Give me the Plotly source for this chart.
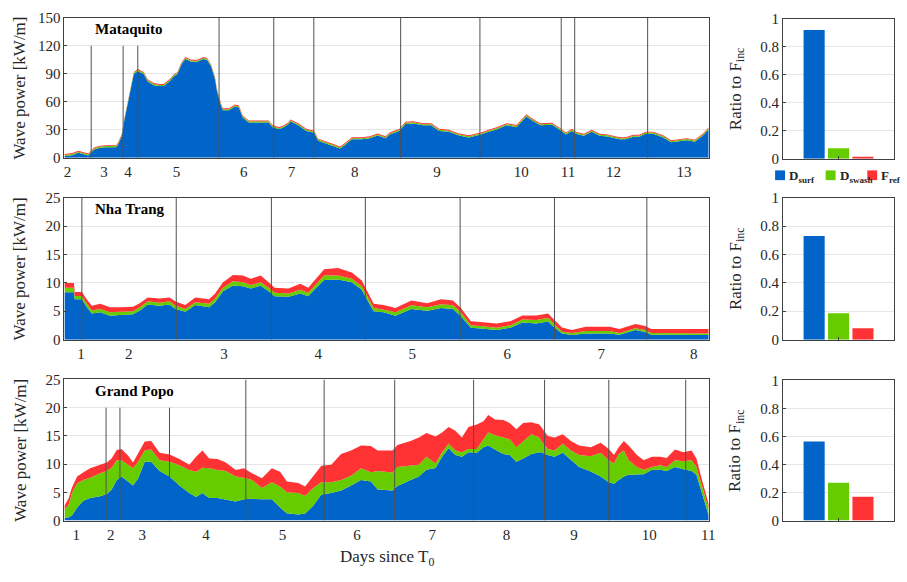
import plotly.graph_objects as go

# ---------------- colours / fonts ----------------
C_SURF = "#0064C8"
C_SWASH = "#66CC00"
C_REF = "#FF3333"
FONT = "Liberation Serif, 'Times New Roman', 'DejaVu Serif', serif"
TXT = "#262626"

# ---------------- Mataquito (time in record hours) ----------------
mq_time = [0, 2, 3.5, 5, 6, 7.5, 9, 10.5, 13, 13.5, 14.5, 15, 16, 17, 17.5, 18.5,
           20, 21, 22.5, 24, 25, 26.5, 27.5, 28.5, 29.5, 30.5, 32, 33.5, 35, 36, 37, 38,
           38.5, 39.5, 40, 41.5, 43, 44, 45, 46.5, 50, 51.5, 52.5, 54, 55, 56.5, 57, 59,
           61, 63, 64, 66, 67, 69.5, 70.5, 72.5, 75, 77, 79, 81, 82, 84.5, 86, 88,
           90.5, 92.5, 94.5, 97, 99.5, 102, 105, 107, 109, 111.5, 114, 116.5, 118, 120, 123, 125,
           126.5, 128, 129, 131, 133, 135, 137, 140, 141.5, 143.5, 145, 146.5, 148.5, 151, 153, 156,
           157, 159, 161, 162.5]
mq_surf = [1.8, 2.8, 5.3, 3.8, 2.3, 8.8, 10.8, 11.3, 11.3, 13.8, 23.8, 37.8, 59.8, 79.8, 89.8, 92.8,
           89.8, 81.8, 77.8, 76.8, 76.8, 81.8, 86.8, 89.8, 99.8, 105.8, 102.8, 102.8, 105.8, 104.8, 97.8, 83.8,
           70.8, 55.8, 50.8, 50.8, 54.8, 53.8, 42.8, 37.8, 37.8, 37.8, 32.8, 30.8, 31.8, 35.8, 38.8, 34.8,
           28.8, 26.8, 18.3, 14.8, 13.8, 9.8, 12.8, 19.8, 19.8, 20.8, 23.8, 20.8, 24.8, 28.8, 36.3, 36.8,
           34.8, 34.8, 28.8, 27.8, 23.8, 21.8, 24.8, 27.8, 30.4, 34.8, 32.8, 44.3, 39.8, 34.8, 35.3, 29.8,
           24.8, 28.8, 25.8, 23.5, 27.8, 23.5, 22.8, 19.8, 19.8, 22.4, 22.4, 25.8, 25.8, 21.8, 16.6, 18.3,
           18.8, 17.2, 23.5, 30.4]
mq_swash = [1.2, 1.2, 1.2, 1.2, 1.2, 1.2, 1.2, 1.2, 1.2, 1.2, 1.2, 1.2, 1.2, 1.2, 1.2, 1.2,
            1.2, 1.2, 1.2, 1.2, 1.2, 1.2, 1.2, 1.2, 1.2, 1.2, 1.2, 1.2, 1.2, 1.2, 1.2, 1.2,
            1.2, 1.2, 1.2, 1.2, 1.2, 1.2, 1.2, 1.2, 1.2, 1.2, 1.2, 1.2, 1.2, 1.2, 1.2, 1.2,
            1.2, 1.2, 1.2, 1.2, 1.2, 1.2, 1.2, 1.2, 1.2, 1.2, 1.2, 1.2, 1.2, 1.2, 1.2, 1.2,
            1.2, 1.2, 1.2, 1.2, 1.2, 1.2, 1.2, 1.2, 1.2, 1.2, 1.2, 1.2, 1.2, 1.2, 1.2, 1.2,
            1.2, 1.2, 1.2, 1.2, 1.2, 1.2, 1.2, 1.2, 1.2, 1.2, 1.2, 1.2, 1.2, 1.2, 1.2, 1.2,
            1.2, 1.2, 1.2, 1.2]
mq_ref = [1.0, 1.0, 1.0, 1.0, 1.0, 1.0, 1.0, 1.0, 1.0, 1.0, 1.0, 1.0, 1.0, 1.0, 1.0, 1.0,
          1.0, 1.0, 1.0, 1.0, 1.0, 1.0, 1.0, 1.0, 1.0, 1.0, 1.0, 1.0, 1.0, 1.0, 1.0, 1.0,
          1.0, 1.0, 1.0, 1.0, 1.0, 1.0, 1.0, 1.0, 1.0, 1.0, 1.0, 1.0, 1.0, 1.0, 1.0, 1.0,
          1.0, 1.0, 1.0, 1.0, 1.0, 1.0, 1.0, 1.0, 1.0, 1.0, 1.0, 1.0, 1.0, 1.0, 1.0, 1.0,
          1.0, 1.0, 1.0, 1.0, 1.0, 1.0, 1.0, 1.0, 1.0, 1.0, 1.0, 1.0, 1.0, 1.0, 1.0, 1.0,
          1.0, 1.0, 1.0, 1.0, 1.0, 1.0, 1.0, 1.0, 1.0, 1.0, 1.0, 1.0, 1.0, 1.0, 1.0, 1.0,
          1.0, 1.0, 1.0, 1.0]
mq_bounds = [6.75, 14.8, 18.5, 39, 52.8, 62.9, 84.8, 104.8, 125.3, 128.7, 147.1]
mq_bound_top = [120, 120, 120, 150, 150, 150, 150, 150, 150, 150, 150]
mq_tickpos = [0.75, 10, 16, 28.25, 45.25, 57.25, 73.25, 94, 115.25, 127, 138.5, 156.25]
mq_ticktext = ["2", "3", "4", "5", "6", "7", "8", "9", "10", "11", "12", "13"]

# ---------------- Nha Trang ----------------
nt_time = [0, 2.4, 2.6, 4.4, 5.7, 6.9, 9, 11.5, 14, 17.3, 19, 21, 24, 26.5, 28, 30.5,
           33, 36.5, 38, 40, 42.5, 45, 47, 49.5, 51.5, 53, 56.5, 59.5, 61.5, 63, 65.5, 69,
           72.5, 75, 76, 78, 80.5, 83.5, 87.5, 91.5, 95, 98, 100, 102.5, 105, 109, 112.5, 115.5,
           119, 122, 123, 125.5, 128, 131.5, 137.5, 140, 144, 146.5, 148, 154, 162.5]
nt_surf = [8.35, 8.35, 7.1, 7.1, 5.7, 4.6, 4.8, 4.2, 4.35, 4.45, 5.15, 6.2, 5.95, 6.2, 5.4, 4.9,
           6.1, 5.7, 6.6, 8.5, 9.55, 9.4, 9.0, 9.5, 8.5, 7.65, 7.55, 8.1, 7.65, 8.8, 10.5, 10.6,
           10.1, 8.8, 7.45, 5.0, 4.8, 4.2, 5.4, 5.1, 5.55, 5.4, 4.1, 2.1, 1.95, 1.7, 2.1, 3.0,
           2.85, 3.2, 2.5, 1.1, 0.8, 1.1, 1.1, 0.85, 1.7, 1.35, 0.85, 0.8, 0.8]
nt_swash = [0.8, 0.8, 0.6, 0.6, 0.6, 0.55, 0.6, 0.6, 0.55, 0.55, 0.55, 0.55, 0.55, 0.55, 0.55, 0.5,
            0.5, 0.6, 0.65, 0.65, 0.75, 0.7, 0.6, 0.6, 0.65, 0.6, 0.55, 0.7, 0.6, 0.6, 0.8, 0.7,
            0.6, 0.6, 0.65, 0.55, 0.45, 0.6, 0.65, 0.6, 0.7, 0.65, 0.7, 0.45, 0.45, 0.4, 0.45, 0.55,
            0.6, 0.6, 0.6, 0.3, 0.35, 0.4, 0.4, 0.3, 0.3, 0.35, 0.3, 0.35, 0.3]
nt_ref = [0.8, 0.8, 0.68, 0.68, 0.7, 0.8, 0.9, 0.9, 0.8, 0.8, 0.7, 0.65, 0.75, 0.65, 0.75, 0.7,
          0.8, 0.8, 0.85, 0.95, 1.1, 1.2, 1.1, 1.2, 0.95, 0.9, 0.9, 1.05, 0.9, 1.0, 1.1, 1.3,
          1.1, 1.0, 0.9, 0.75, 0.85, 0.75, 0.85, 0.7, 0.85, 0.85, 0.75, 0.7, 0.7, 0.75, 0.7, 0.7,
          0.8, 0.8, 0.75, 0.75, 0.55, 0.75, 0.75, 0.7, 0.75, 0.7, 0.7, 0.75, 0.75]
nt_bounds = [4.4, 28.2, 52.2, 75.9, 99.8, 123.6, 146.9]
nt_bound_top = [25, 25, 25, 25, 25, 25, 25]
nt_tickpos = [4.2, 16.25, 40.25, 64, 87.75, 111.7, 135.4, 158.75]
nt_ticktext = ["1", "2", "3", "4", "5", "6", "7", "8"]

# ---------------- Grand Popo ----------------
gp_time = [0, 1.1, 1.9, 3.2, 4.8, 6.5, 9, 10.7, 11.9, 13.2, 14.4, 16.1, 17.3, 18.6, 20.25, 21.9,
           24, 26.5, 29, 31.5, 33.2, 34.8, 36.5, 38.6, 40.7, 43.2, 45.25, 47.3, 49.8, 52.3, 54.4, 56.1,
           59, 60.7, 62.75, 64.8, 67.3, 69.8, 72.3, 74.8, 77.3, 79, 82.75, 84, 87.3, 89.4, 91.3, 93.6,
           95.25, 96.9, 98.6, 100.25, 101.9, 104, 105.7, 106.9, 108.6, 110.7, 112.3, 114, 115.7, 117.75, 119.8, 120.25,
           121.9, 123.6, 125.7, 127.75, 129.8, 132.75, 135.25, 137.3, 138.6, 139.8, 141.1, 142.3, 144.4, 146.1, 148.2, 150.25,
           151.9, 154, 156.1, 158.2, 159.4, 160.7, 161.9, 162.5]
gp_surf = [0.46, 0.6, 0.87, 2.3, 3.5, 4.0, 4.3, 4.7, 5.5, 7.2, 7.8, 6.9, 6.2, 7.5, 10.4, 10.4,
           8.8, 7.8, 6.2, 4.9, 4.15, 4.9, 4.0, 4.0, 3.75, 3.35, 3.75, 3.85, 3.75, 3.75, 2.3, 1.3,
           1.05, 1.25, 2.6, 4.6, 4.9, 5.3, 6.2, 7.2, 6.9, 5.5, 5.3, 6.1, 7.2, 7.8, 9.0, 9.3,
           11.3, 12.8, 11.6, 11.3, 12.1, 12.0, 13.0, 13.3, 12.6, 11.8, 11.6, 10.4, 11.0, 11.8, 12.1, 12.1,
           11.6, 11.3, 12.0, 10.7, 9.5, 8.7, 7.8, 6.8, 6.5, 7.2, 7.8, 8.1, 8.1, 8.2, 9.0, 9.0,
           8.8, 9.5, 9.1, 8.8, 8.1, 5.2, 2.4, 0.9]
gp_swash = [1.4, 2.3, 4.0, 4.3, 3.7, 3.6, 4.1, 4.1, 3.85, 3.5, 2.9, 2.9, 3.05, 2.9, 2.0, 2.2,
            1.9, 2.6, 3.6, 4.05, 4.5, 4.45, 5.25, 4.95, 5.05, 4.45, 3.85, 3.35, 2.0, 3.05, 3.75, 3.7,
            3.85, 3.1, 3.15, 2.2, 1.9, 1.9, 1.75, 2.05, 1.65, 3.3, 3.2, 3.4, 2.6, 2.1, 2.3, 0.8,
            0.8, 0.8, 0.8, 0.8, 0.6, 0.7, 1.4, 2.3, 2.5, 2.9, 2.8, 2.6, 3.1, 3.5, 2.6, 2.0,
            1.1, 1.1, 1.6, 1.7, 2.1, 2.7, 4.2, 3.9, 3.6, 4.6, 4.6, 2.6, 1.4, 0.8, 0.5, 0.8,
            0.7, 1.2, 1.4, 1.9, 1.4, 1.2, 1.1, 1.2]
gp_ref = [0.75, 1.1, 1.0, 1.2, 1.35, 1.65, 1.5, 1.5, 1.65, 1.8, 2.0, 1.7, 1.05, 1.6, 1.6, 1.5,
          1.3, 1.3, 1.1, 0.95, 2.65, 3.05, 1.75, 1.95, 1.5, 1.15, 1.65, 1.2, 1.75, 2.45, 2.6, 1.9,
          1.75, 1.7, 2.05, 2.9, 3.1, 4.6, 4.45, 4.05, 4.65, 3.6, 3.9, 3.9, 4.3, 4.8, 4.2, 4.8,
          3.5, 3.0, 3.5, 2.6, 3.9, 4.3, 3.2, 3.1, 2.8, 3.1, 2.9, 3.2, 3.2, 2.1, 2.3, 2.5,
          2.3, 2.3, 1.7, 1.7, 1.7, 1.6, 1.8, 2.0, 1.5, 1.2, 1.7, 2.6, 2.1, 1.7, 1.8, 1.5,
          1.6, 1.9, 1.6, 1.7, 1.5, 1.1, 1.2, 0.8]
gp_bounds = [10.5, 14, 26.5, 45.75, 65.5, 83.3, 103.2, 121.1, 137.3, 156.7]
gp_bound_top = [20, 20, 20, 25, 25, 25, 25, 25, 25, 25]
gp_tickpos = [3, 11.7, 19.6, 35.7, 55, 73.8, 92.75, 111.5, 128.5, 147.5, 162.4]
gp_ticktext = ["1", "2", "3", "4", "5", "6", "7", "8", "9", "10", "11"]

# ---------------- energy partition ratios ----------------
ratio_pos = [0.78, 1.0, 1.22]
ratio_mq = [0.92, 0.075, 0.015]
ratio_nt = [0.73, 0.185, 0.08]
ratio_gp = [0.565, 0.27, 0.17]

sites = [
    dict(name="Mataquito", t=mq_time, s=mq_surf, w=mq_swash, r=mq_ref, ymax=150, dtick=30,
         bounds=mq_bounds, btop=mq_bound_top, tp=mq_tickpos, tt=mq_ticktext, ratio=ratio_mq),
    dict(name="Nha Trang", t=nt_time, s=nt_surf, w=nt_swash, r=nt_ref, ymax=25, dtick=5,
         bounds=nt_bounds, btop=nt_bound_top, tp=nt_tickpos, tt=nt_ticktext, ratio=ratio_nt),
    dict(name="Grand Popo", t=gp_time, s=gp_surf, w=gp_swash, r=gp_ref, ymax=25, dtick=5,
         bounds=gp_bounds, btop=gp_bound_top, tp=gp_tickpos, tt=gp_ticktext, ratio=ratio_gp),
]

W, H = 907, 582
left_dom = [64 / W, 714 / W]
right_dom = [789 / W, 901 / W]
row_px = [(10, 154), (195, 341), (382, 527)]
bar_px = [(11, 155), (195, 341), (383, 527)]


def ydom(px):
    return [1 - px[1] / H, 1 - px[0] / H]


fig = go.Figure()
layout = dict(
    width=W, height=H, margin=dict(l=0, r=0, t=0, b=0),
    paper_bgcolor="white", plot_bgcolor="white",
    showlegend=False, font=dict(family=FONT, size=15, color=TXT),
)
shapes, annots = [], []

axis_common = dict(showline=True, linecolor="#404040", linewidth=1, mirror=True,
                   zeroline=False, tickfont=dict(family=FONT, size=15, color=TXT))

for i, st in enumerate(sites):
    xa_l, ya_l = f"x{2 * i + 1}", f"y{2 * i + 1}"
    xa_b, ya_b = f"x{2 * i + 2}", f"y{2 * i + 2}"
    grp = f"g{i}"
    for vals, col in ((st["s"], C_SURF), (st["w"], C_SWASH), (st["r"], C_REF)):
        fig.add_trace(go.Scatter(
            x=st["t"], y=vals, xaxis=xa_l, yaxis=ya_l, stackgroup=grp, mode="lines",
            line=dict(width=0, color=col), fillcolor=col, hoverinfo="skip"))
    fig.add_trace(go.Bar(
        x=ratio_pos, y=st["ratio"], xaxis=xa_b, yaxis=ya_b, width=0.19,
        marker=dict(color=[C_SURF, C_SWASH, C_REF], line=dict(width=0))))

    layout[f"xaxis{2 * i + 1}"] = dict(
        axis_common, domain=left_dom, anchor=ya_l, range=[0, 162.5], showgrid=False,
        tickmode="array", tickvals=st["tp"], ticktext=st["tt"], ticks="", ticklen=0)
    layout[f"yaxis{2 * i + 1}"] = dict(
        axis_common, domain=ydom(row_px[i]), anchor=xa_l, range=[0, st["ymax"]],
        dtick=st["dtick"], showgrid=True, gridcolor="#e6e6e6", gridwidth=1,
        ticks="inside", ticklen=3, tickcolor="#404040")
    layout[f"xaxis{2 * i + 2}"] = dict(
        axis_common, domain=right_dom, anchor=ya_b, range=[0.5, 1.5], showgrid=False,
        tickvals=[1], showticklabels=False, ticks="inside", ticklen=3, tickcolor="#404040")
    layout[f"yaxis{2 * i + 2}"] = dict(
        axis_common, domain=ydom(bar_px[i]), anchor=xa_b, range=[0, 1],
        tickvals=[0, 0.2, 0.4, 0.6, 0.8, 1], ticktext=["0", "0.2", "0.4", "0.6", "0.8", "1"],
        showgrid=True, gridcolor="#e6e6e6", gridwidth=1,
        ticks="inside", ticklen=3, tickcolor="#404040")

    # segment boundaries
    for b, top in zip(st["bounds"], st["btop"]):
        shapes.append(dict(type="line", xref=xa_l, yref=ya_l, x0=b, x1=b, y0=0, y1=top,
                           line=dict(color="#505050", width=1), layer="above"))

    # site name
    annots.append(dict(text=f"<b>{st['name']}</b>", xref="paper", yref="paper",
                       x=93 / W, y=1 - (row_px[i][0] + 12) / H, xanchor="left", yanchor="middle",
                       showarrow=False, font=dict(family=FONT, size=15, color="black")))
    # y titles
    mid = 1 - (row_px[i][0] + row_px[i][1]) / 2 / H
    annots.append(dict(text="Wave power [kW/m]", xref="paper", yref="paper", x=19 / W, y=mid,
                       textangle=-90, showarrow=False, xanchor="center", yanchor="middle",
                       font=dict(family=FONT, size=17, color=TXT)))
    midb = 1 - (bar_px[i][0] + bar_px[i][1]) / 2 / H
    annots.append(dict(text="Ratio to F<sub>inc</sub>", xref="paper", yref="paper", x=742 / W, y=midb,
                       textangle=-90, showarrow=False, xanchor="center", yanchor="middle",
                       font=dict(family=FONT, size=17, color=TXT)))

# x title
annots.append(dict(text="Days since T<sub>0</sub>", xref="paper", yref="paper", x=389 / W, y=1 - 566 / H,
                   showarrow=False, xanchor="center", yanchor="middle",
                   font=dict(family=FONT, size=17, color=TXT)))

# legend row under the first bar chart
leg_items = [("D", "surf", C_SURF, 781), ("D", "swash", C_SWASH, 832), ("F", "ref", C_REF, 874)]
ly = 172
for main, sub, col, px in leg_items:
    shapes.append(dict(type="rect", xref="paper", yref="paper",
                       x0=px / W, x1=(px + 10) / W, y0=1 - (ly + 5) / H, y1=1 - (ly - 5) / H,
                       fillcolor=col, line=dict(width=0)))
    annots.append(dict(text=f"<b>{main}<sub>{sub}</sub></b>", xref="paper", yref="paper",
                       x=(px + 12) / W, y=1 - (ly + 1) / H, xanchor="left", yanchor="middle",
                       showarrow=False, font=dict(family=FONT, size=13, color=TXT)))

layout["shapes"] = shapes
layout["annotations"] = annots
fig.update_layout(**layout)
fig.write_html("out.html")
